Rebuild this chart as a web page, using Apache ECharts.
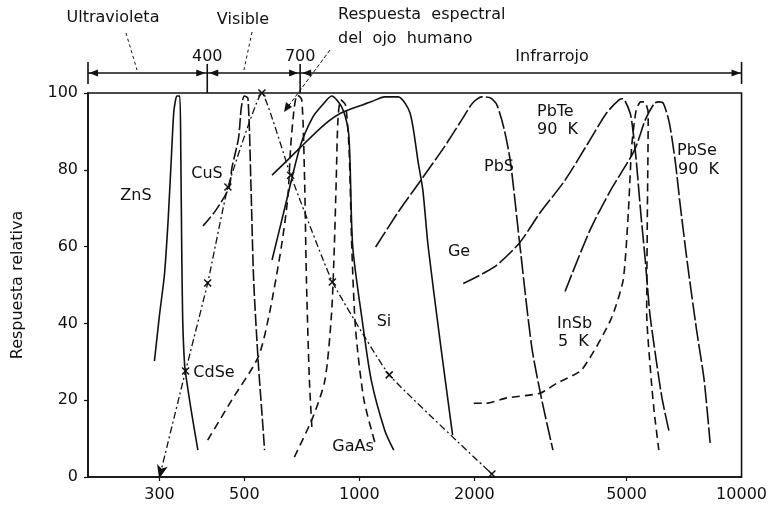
<!DOCTYPE html>
<html><head><meta charset="utf-8">
<script src="https://cdn.jsdelivr.net/npm/echarts@6.0.0/dist/echarts.min.js"></script>
<style>html,body{margin:0;padding:0;background:#fff}#c{width:770px;height:508px}</style>
</head><body><div id="c"></div>
<script>
// Wavelength tick labels (nm) and response ticks
const xTicks = [300, 500, 1000, 2000, 5000, 10000];
const yTicks = [0, 20, 40, 60, 80, 100];
const bandMarks = [400, 700];

// Curves: [wavelength nm, relative response %]
const ZnS  = [[291,30.2],[300,42.2],[309,52.6],[316,66.9],[322,82.6],[327,95.1],[333,99.2],[339,99.2],[341,85.2],[343,59.1],[345,40.9],[349,29.2],[353,25.3],[363,17.4],[378,7.0]];
const CuS  = [[390,65.4],[420,69.3],[456,75.3],[464,80.5],[483,88.3],[491,96.1],[500,99.2],[511,98.7],[520,77.3],[529,51.3],[544,29.7],[556,16.7],[565,7.0]];
const CdSe = [[401,9.6],[464,20.1],[544,31.3],[582,42.7],[625,59.9],[650,72.9],[661,85.9],[676,96.4],[688,99.5],[707,98.2],[719,77.3],[727,51.3],[740,25.3],[752,12.2]];
const Si   = [[591,56.5],[639,70.3],[699,85.9],[756,93.8],[804,97.1],[846,99.2],[899,96.4],[935,90.4],[945,82.6],[961,59.9],[1017,40.9],[1074,25.3],[1165,12.2],[1230,7.0]];
const Ge   = [[591,78.6],[650,82.6],[699,85.7],[813,91.9],[909,95.1],[1074,97.7],[1165,99.0],[1264,99.0],[1357,94.8],[1426,81.8],[1466,74.7],[1514,59.9],[1634,33.9],[1754,10.9]];
const GaAs = [[676,5.2],[756,15.6],[813,25.3],[846,42.7],[860,59.9],[870,77.3],[879,93.0],[894,98.2],[920,96.9],[940,85.2],[956,59.1],[978,38.3],[1028,20.1],[1103,8.3]];
const PbS  = [[1103,59.9],[1264,69.0],[1449,77.3],[1662,85.7],[1853,93.0],[1979,97.4],[2092,99.0],[2205,98.7],[2290,96.9],[2395,90.4],[2487,81.8],[2621,61.7],[2825,33.9],[3001,20.1],[3210,7.0]];
const PbTe = [[1870,50.4],[2255,54.7],[2621,60.9],[2970,68.8],[3453,77.3],[4013,87.8],[4435,94.8],[4780,98.2],[4889,98.5],[5110,94.8],[5195,90.4],[5301,82.6],[5448,68.8],[5598,56.5],[5753,42.7],[5912,33.9],[6186,20.8],[6473,11.5]];
const InSb = [[1992,19.2],[2145,19.2],[2432,20.6],[2970,21.8],[3284,24.4],[3816,27.9],[4546,40.9],[4900,51.3],[5055,68.8],[5158,86.0],[5301,95.6],[5448,97.7],[5577,97.7],[5699,94.8],[5668,67.0],[5647,42.7],[5804,25.3],[5912,16.7],[6076,7.0]];
const PbSe = [[3453,48.3],[4013,64.3],[4546,74.7],[5252,85.2],[5598,93.0],[5912,97.3],[6076,97.7],[6243,97.3],[6473,92.2],[6715,81.8],[6900,71.4],[7216,55.7],[7626,38.3],[7981,25.3],[8274,8.9]];
// Human eye spectral response (points marked with x)
const Eye  = [[300,0],[351,27.6],[401,50.5],[453,75.5],[556,100],[661,78.6],[850,50.8],[1197,26.6],[2222,0.8]];

const FONT = 'DejaVu Sans';
const K = '#111';
function line(name, data, type, smooth) {
  return { name, type:'line', data, smooth: smooth==null?0.25:smooth, symbol:'none', clip:false,
    lineStyle:{ color:K, width:1.6, type } };
}
const X_SYM = 'path://M0,0L10,10M0,10L10,0';
const eyeData = Eye.map((p,i)=> i===0
  ? { value:p, symbol:'arrow', symbolSize:[6,10], symbolRotate:166 }
  : { value:p, symbol:X_SYM, symbolSize:7 });

const option = {
  backgroundColor:'#fff',
  animation:false,
  grid:{ left:88, right:27, top:93, bottom:31, show:true, borderColor:K, borderWidth:1.6 },
  xAxis:{ type:'log', min:195, max:10000,
    axisLine:{ lineStyle:{ color:K, width:1.6 } },
    axisTick:{ customValues:xTicks.slice(0,5), length:4, lineStyle:{ color:K, width:1.2 } },
    axisLabel:{ customValues:xTicks, formatter: v => String(Math.round(v)), color:K, fontFamily:FONT, fontSize:16, margin:10 },
    splitLine:{ show:false }, minorTick:{show:false} },
  yAxis:{ type:'value', min:0, max:100, interval:20,
    name:'Respuesta relativa', nameLocation:'middle', nameGap:62, nameRotate:90,
    nameTextStyle:{ color:K, fontFamily:FONT, fontSize:16 },
    axisLine:{ show:true, lineStyle:{ color:K, width:1.6 } },
    axisTick:{ show:true, length:4, lineStyle:{ color:K, width:1.2 } },
    axisLabel:{ color:K, fontFamily:FONT, fontSize:16, margin:10 },
    splitLine:{ show:false } },
  series:[
    line('ZnS', ZnS, 'solid', 0.2),
    line('CuS', CuS, [12,3]),
    line('CdSe', CdSe, [8,5]),
    line('Si', Si, 'solid'),
    line('Ge', Ge, 'solid'),
    line('GaAs', GaAs, [8,5]),
    line('PbS', PbS, [18,3]),
    line('PbTe', PbTe, [18,3]),
    line('InSb', InSb, [8,5], 0.2),
    line('PbSe', PbSe, [18,3]),
    { name:'Ojo', type:'line', data:eyeData, smooth:0.12, clip:false,
      lineStyle:{ color:K, width:1.3, type:[7,3,2,3] },
      itemStyle:{ color:K, borderColor:K, borderWidth:1.5 } }
  ]
};

const chart = echarts.init(document.getElementById('c'));
chart.setOption(option);

const px = v => chart.convertToPixel({xAxisIndex:0}, v);
const xL = px(195), xR = px(10000), bandY = 73;
const g = [];
const seg = (x1,y1,x2,y2,w,dash) => g.push({ type:'line', shape:{x1,y1,x2,y2}, style:{ stroke:K, lineWidth:w||1.4, lineDash:dash||null } });
const arrow = (x, dir) => g.push({ type:'polygon', shape:{ points:[[x,bandY],[x-dir*9,bandY-3.5],[x-dir*9,bandY+3.5]] }, style:{ fill:K } });
const txt = (text, x, y, align, size) => g.push({ type:'text', x, y, style:{ text, fill:K, font:(size||16)+'px "'+FONT+'"', align:align||'center', verticalAlign:'middle' } });

seg(xL, bandY, xR, bandY, 1.6);
seg(xL, 62, xL, 84, 1.6); seg(xR, 62, xR, 84, 1.6);
arrow(xL+1, -1); arrow(xR-1, 1);
bandMarks.forEach(m => {
  const x = px(m);
  seg(x, 64, x, 93, 1.6);
  arrow(x-2, 1); arrow(x+2, -1);
  txt(String(m), x, 57);
});
txt('Infrarrojo', 552, 57);
txt('Ultravioleta', 113, 18);
txt('Visible', 243, 20);
txt('Respuesta  espectral', 338, 15, 'left');
txt('del  ojo  humano', 338, 39, 'left');
// leader lines
seg(126, 33, 137, 70, 1, [3,3]);
seg(252, 32, 244, 70, 1, [3,3]);
seg(330, 50, 287, 108, 1, [4,2]);
g.push({ type:'polygon', shape:{ points:[[284,112],[286,102],[292,107]] }, style:{ fill:K } });
// curve labels
txt('ZnS', 136, 196);
txt('CuS', 207, 174);
txt('CdSe', 214, 373);
txt('Si', 384, 322);
txt('GaAs', 353, 447);
txt('Ge', 459, 252);
txt('PbS', 499, 167);
txt('PbTe', 537, 112, 'left'); txt('90  K', 537, 130, 'left');
txt('InSb', 557, 324, 'left'); txt('5  K', 558, 342, 'left');
txt('PbSe', 677, 151, 'left'); txt('90  K', 678, 170, 'left');

chart.setOption({ graphic: g });
</script>
</body></html>
